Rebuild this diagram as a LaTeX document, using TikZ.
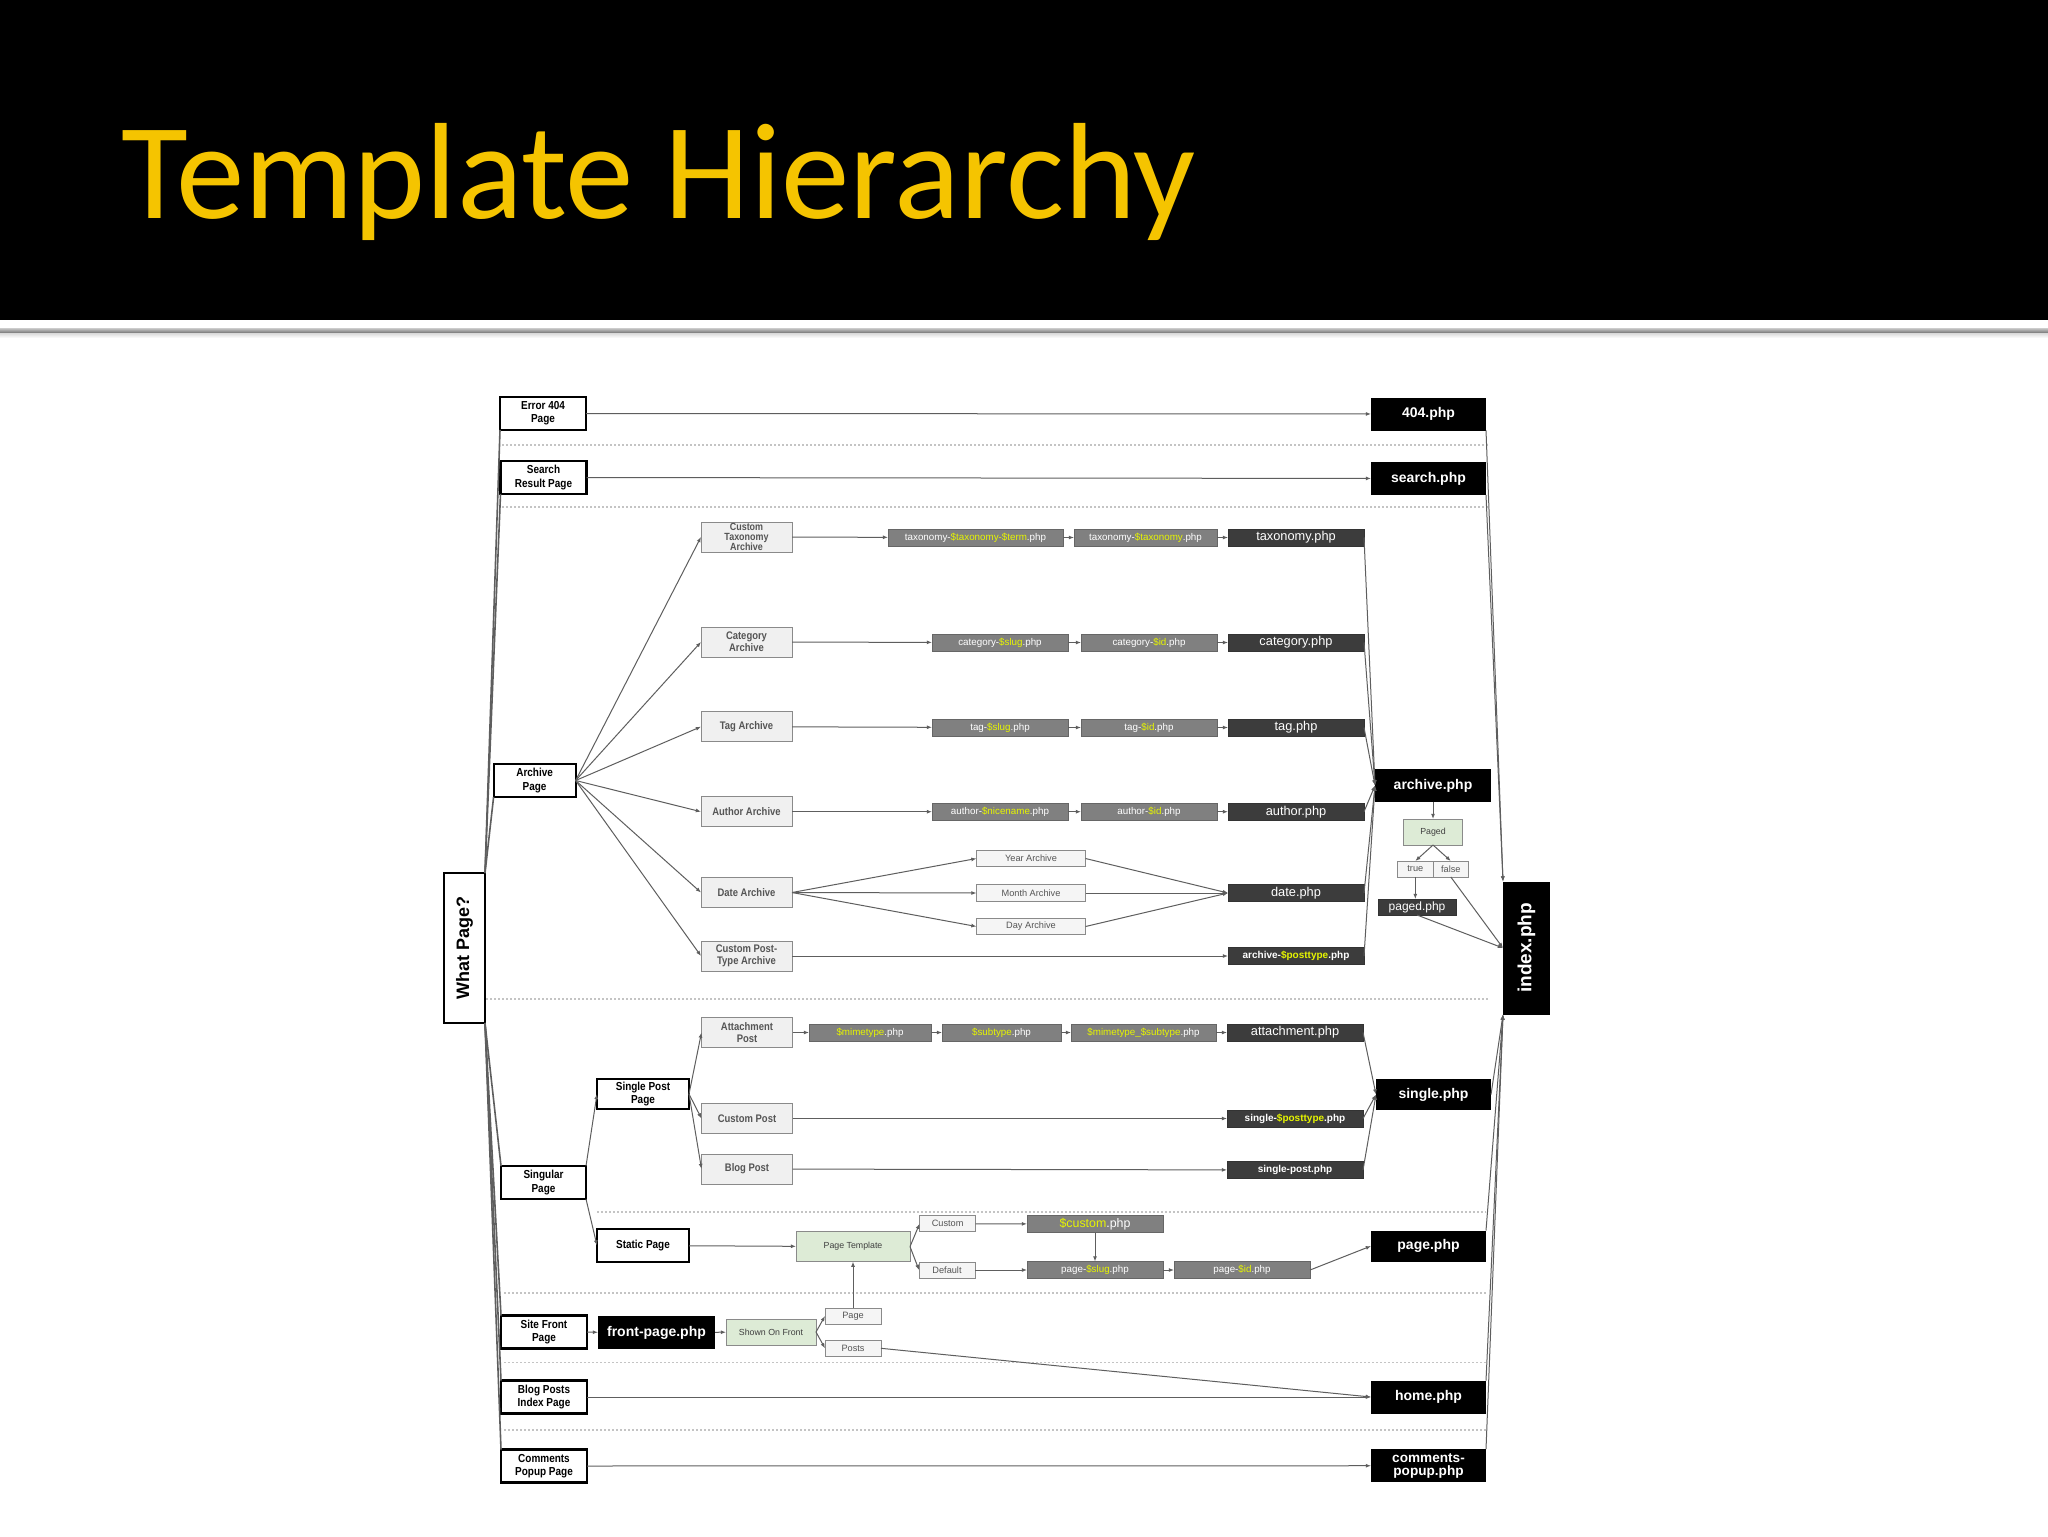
\documentclass[tikz,border=0pt]{standalone}
\usepackage{fontspec}
\usetikzlibrary{arrows.meta,calc}
\setmainfont{Liberation Sans}
\newfontfamily\calib{Carlito}
\newfontfamily\narr[FakeStretch=0.86]{Liberation Sans}
\definecolor{titlegold}{HTML}{F5C400}
\definecolor{hly}{HTML}{E6F500}
\definecolor{filegray}{HTML}{808080}
\definecolor{filedark}{HTML}{3C3C3C}
\definecolor{subfill}{HTML}{F0F0F0}
\definecolor{subdraw}{HTML}{8A8A8A}
\definecolor{subtext}{HTML}{555555}
\definecolor{greenfill}{HTML}{DDEBD6}
\definecolor{linegray}{HTML}{5E5E5E}
\definecolor{dotgray}{HTML}{C4C4C4}
\newcommand\hv[1]{\textcolor{hly}{#1}}
\newcommand\fsz[2]{\fontsize{#1}{#2}\selectfont}
\tikzset{
  base/.style={inner sep=0pt, outer sep=0pt, align=center},
  leftbox/.style={base, draw=black, line width=1.1pt, fill=white, minimum width=43pt, minimum height=16.5pt, font=\narr\bfseries\fsz{5.8}{6.6}},
  subbox/.style={base, draw=subdraw, line width=0.5pt, fill=subfill, text=subtext, minimum width=45.5pt, minimum height=15pt, font=\narr\bfseries\fsz{5.5}{6.2}},
  smallbox/.style={base, draw=subdraw, line width=0.5pt, fill=white!96!black, text=subtext, minimum height=8.3pt, font=\fsz{4.6}{5}},
  greenbox/.style={base, draw=subdraw, line width=0.5pt, fill=greenfill, text=black!75, font=\fsz{4.4}{5}},
  grayfile/.style={base, draw=black!60, line width=0.5pt, fill=filegray, text=white, minimum width=68pt, minimum height=8.5pt, font=\fsz{4.9}{5}},
  darkfile/.style={base, draw=black!80, line width=0.5pt, fill=filedark, text=white, minimum width=68pt, minimum height=8.5pt, font=\fsz{6.4}{7}},
  blackfile/.style={base, fill=black, text=white, minimum width=57.5pt, minimum height=16.5pt, font=\bfseries\fsz{7}{7.4}},
  conn/.style={draw=linegray, line width=0.5pt, -{Latex[length=2.6pt,width=2pt]}},
  link/.style={draw=linegray, line width=0.5pt},
  sep/.style={draw=dotgray, line width=0.6pt, dash pattern=on 1pt off 1pt}
}
\begin{document}
\begin{tikzpicture}[x=0.5pt,y=-0.5pt]
\useasboundingbox (0,0) rectangle (2048,1536);
\fill[white] (0,0) rectangle (2048,1536);
\fill[black] (0,0) rectangle (2048,320);
\shade[top color=black!20, bottom color=black!55] (0,328) rectangle (2048,333);
\shade[top color=black!15, bottom color=white] (0,333) rectangle (2048,338);
\node[anchor=base west, inner sep=0pt, text=titlegold, font=\calib\fsz{68.5}{74}] (title) at (121,218) {Template Hierarchy};

% separators
\draw[sep] (502,445) -- (1488,445);
\draw[sep] (502,507) -- (1490,507);
\draw[sep] (486,999) -- (1490,999);
\draw[sep] (597,1212) -- (1486,1212);
\draw[sep] (504,1293) -- (1486,1293);
\draw[sep] (504,1362.5) -- (1488,1362.5);
\draw[sep] (504,1430) -- (1488,1430);

% left boxes
\node[leftbox] (err) at (543,413.5) {Error 404\\Page};
\node[leftbox] (srch) at (543.5,477.5) {Search\\Result Page};
\node[leftbox, minimum width=41pt] (arch) at (534.6,780.5) {Archive\\Page};
\node[leftbox, minimum width=42.5pt] (sing) at (543.5,1182.5) {Singular\\Page};
\node[leftbox, minimum width=46pt, minimum height=15pt] (spp) at (643,1094) {Single Post\\Page};
\node[leftbox, minimum width=46pt] (static) at (643,1245.5) {Static Page};
\node[leftbox] (sfp) at (544,1332) {Site Front\\Page};
\node[leftbox] (bpi) at (544,1397) {Blog Posts\\Index Page};
\node[leftbox] (cpp) at (544,1466) {Comments\\Popup Page};
\node[leftbox, minimum width=20.5pt, minimum height=75pt, font=\bfseries\fsz{9}{10}] (wp) at (464.5,948) {\rotatebox{90}{What Page?}};

% sub boxes
\node[subbox, font=\narr\bfseries\fsz{5.2}{5.1}] (ct) at (746.5,537) {Custom\\Taxonomy\\Archive};
\node[subbox] (cat) at (746.5,642) {Category\\Archive};
\node[subbox] (tag) at (746.5,726.7) {Tag Archive};
\node[subbox] (auth) at (746.5,811.7) {Author Archive};
\node[subbox] (date) at (746.5,892.5) {Date Archive};
\node[subbox] (cpt) at (746.5,956) {Custom Post-\\Type Archive};
\node[subbox] (attp) at (747,1032.5) {Attachment\\Post};
\node[subbox] (custp) at (747,1118.5) {Custom Post};
\node[subbox] (blogp) at (747,1169) {Blog Post};

% small boxes
\node[smallbox, minimum width=54.5pt] (year) at (1031,858.5) {Year Archive};
\node[smallbox, minimum width=54.5pt] (month) at (1031,893) {Month Archive};
\node[smallbox, minimum width=54.5pt] (day) at (1031,926.5) {Day Archive};
\node[smallbox, minimum width=28pt, minimum height=8pt] (custom) at (947.6,1223.7) {Custom};
\node[smallbox, minimum width=28pt, minimum height=8pt] (default) at (947,1270) {Default};
\node[smallbox, minimum width=28pt, minimum height=8pt] (pg) at (853,1316) {Page};
\node[smallbox, minimum width=28pt, minimum height=8pt] (posts) at (853,1348.3) {Posts};
\node[smallbox, minimum width=17.8pt, minimum height=8pt] (true) at (1415.3,869) {true};
\node[smallbox, minimum width=17.8pt, minimum height=8pt] (false) at (1450.8,869) {false};

% green boxes
\node[greenbox, minimum width=57pt, minimum height=15pt] (ptpl) at (853,1246.6) {Page Template};
\node[greenbox, minimum width=45pt, minimum height=13pt] (sof) at (771,1332) {Shown On Front};
\node[greenbox, minimum width=29.5pt, minimum height=13pt] (paged) at (1433,832) {Paged};

% gray file boxes
\node[grayfile, minimum width=87.5pt] (tax1) at (975.5,537.5) {taxonomy-\hv{\$taxonomy-\$term}.php};
\node[grayfile, minimum width=71.5pt] (tax2) at (1145.5,537.5) {taxonomy-\hv{\$taxonomy}.php};
\node[grayfile] (cat1) at (1000,642.5) {category-\hv{\$slug}.php};
\node[grayfile] (cat2) at (1149,642.5) {category-\hv{\$id}.php};
\node[grayfile] (tag1) at (1000,727.5) {tag-\hv{\$slug}.php};
\node[grayfile] (tag2) at (1149,727.5) {tag-\hv{\$id}.php};
\node[grayfile] (auth1) at (1000,811.7) {author-\hv{\$nicename}.php};
\node[grayfile] (auth2) at (1149,811.7) {author-\hv{\$id}.php};
\node[grayfile, minimum width=61pt] (att1) at (870,1032.5) {\hv{\$mimetype}.php};
\node[grayfile, minimum width=59.5pt] (att2) at (1001.5,1032.5) {\hv{\$subtype}.php};
\node[grayfile, minimum width=72.5pt] (att3) at (1143.5,1032.5) {\hv{\$mimetype\_\$subtype}.php};
\node[grayfile, font=\fsz{6.2}{7}] (cphp) at (1095,1224) {\hv{\$custom}.php};
\node[grayfile] (pslug) at (1095,1270) {page-\hv{\$slug}.php};
\node[grayfile] (pid) at (1242,1270) {page-\hv{\$id}.php};

% dark file boxes
\node[darkfile] (taxphp) at (1296,537.5) {taxonomy.php};
\node[darkfile] (catphp) at (1296,642.5) {category.php};
\node[darkfile] (tagphp) at (1296,727.5) {tag.php};
\node[darkfile] (authphp) at (1296,811.7) {author.php};
\node[darkfile] (datephp) at (1296,893) {date.php};
\node[darkfile, font=\bfseries\fsz{5}{6}] (archpt) at (1296,956) {archive-\hv{\$posttype}.php};
\node[darkfile] (attphp) at (1295,1032.5) {attachment.php};
\node[darkfile, font=\bfseries\fsz{5}{6}] (sptphp) at (1295,1118.5) {single-\hv{\$posttype}.php};
\node[darkfile, font=\bfseries\fsz{5}{6}] (spphp) at (1295,1170) {single-post.php};
\node[darkfile, minimum width=39pt, minimum height=8pt, font=\fsz{6}{7}] (pagedphp) at (1417,907) {paged.php};

% black file boxes
\node[blackfile] (p404) at (1428.5,414) {404.php};
\node[blackfile] (searchphp) at (1428.5,478.5) {search.php};
\node[blackfile, minimum width=58pt] (archphp) at (1433,785.5) {archive.php};
\node[blackfile, minimum height=15.5pt] (singlephp) at (1433.5,1094.5) {single.php};
\node[blackfile, minimum height=15.5pt] (pagephp) at (1428.5,1246) {page.php};
\node[blackfile] (homephp) at (1428.5,1397) {home.php};
\node[blackfile, font=\bfseries\fsz{6.8}{6.4}] (cpop) at (1428.5,1465.7) {comments-\\popup.php};
\node[blackfile, minimum width=58.5pt] (fp) at (656.5,1332.5) {front-page.php};
\node[blackfile, minimum width=23.5pt, minimum height=66.5pt, font=\bfseries\fsz{9.5}{10}] (idx) at (1526.5,948) {\rotatebox{90}{index.php}};

% What Page? links
\draw[link, line width=0.8pt] (wp.north east) -- (err.south west);
\draw[link, line width=0.8pt] (wp.north east) -- (srch.south west);
\draw[link, line width=0.8pt] (wp.north east) -- (arch.south west);
\draw[link, line width=0.8pt] (wp.south east) -- (sing.north west);
\draw[link, line width=0.8pt] (wp.south east) -- (sfp.north west);
\draw[link, line width=0.8pt] (wp.south east) -- (bpi.north west);
\draw[link, line width=0.8pt] (wp.south east) -- (cpp.north west);

% straight rows
\draw[conn] (err) -- (p404);
\draw[conn] (srch) -- (searchphp);
\draw[conn] (bpi) -- (homephp);
\draw[conn] (cpp) -- (cpop);

% archive fan
\foreach \t in {ct,cat,tag,auth,date,cpt}{\draw[conn] (arch.east) -- (\t.west);}
\draw[conn] (ct) -- (tax1); \draw[conn] (tax1) -- (tax2); \draw[conn] (tax2) -- (taxphp);
\draw[conn] (cat) -- (cat1); \draw[conn] (cat1) -- (cat2); \draw[conn] (cat2) -- (catphp);
\draw[conn] (tag) -- (tag1); \draw[conn] (tag1) -- (tag2); \draw[conn] (tag2) -- (tagphp);
\draw[conn] (auth) -- (auth1); \draw[conn] (auth1) -- (auth2); \draw[conn] (auth2) -- (authphp);
\foreach \t in {year,month,day}{\draw[conn] (date.east) -- (\t.west); \draw[conn] (\t.east) -- (datephp.west);}
\draw[conn] (cpt) -- (archpt);
\foreach \t in {taxphp,catphp,tagphp,authphp,datephp,archpt}{\draw[conn] (\t.east) -- (archphp.west);}
\draw[conn] (archphp) -- (paged);
\draw[conn] (paged.south) -- (true.north);
\draw[conn] (paged.south) -- (false.north);
\draw[conn] (true.south) -- (true.south |- pagedphp.north);
\draw[conn] (pagedphp.south) -- (idx.west);
\draw[conn] (false.south) -- (idx.west);

% index links
\draw[conn] (p404.south east) -- (idx.north west);
\draw[conn] (searchphp.south east) -- (idx.north west);
\draw[conn] (singlephp.east) -- (idx.south west);
\draw[conn] (pagephp.north east) -- (idx.south west);
\draw[conn] (homephp.north east) -- (idx.south west);
\draw[conn] (cpop.north east) -- (idx.south west);

% singular
\draw[conn] (sing.north east) -- (spp.west);
\draw[conn] (sing.south east) -- (static.west);
\foreach \t in {attp,custp,blogp}{\draw[conn] (spp.east) -- (\t.west);}
\draw[conn] (attp) -- (att1); \draw[conn] (att1) -- (att2); \draw[conn] (att2) -- (att3); \draw[conn] (att3) -- (attphp);
\draw[conn] (custp) -- (sptphp);
\draw[conn] (blogp) -- (spphp);
\foreach \t in {attphp,sptphp,spphp}{\draw[conn] (\t.east) -- (singlephp.west);}

% static page
\draw[conn] (static) -- (ptpl);
\draw[conn] (ptpl.east) -- (custom.west);
\draw[conn] (ptpl.east) -- (default.west);
\draw[conn] (custom) -- (cphp);
\draw[conn] (default) -- (pslug);
\draw[conn] (cphp) -- (pslug);
\draw[conn] (pslug) -- (pid);
\draw[conn] (pid.east) -- (pagephp.west);

% front page
\draw[conn] (sfp) -- (fp);
\draw[conn] (fp) -- (sof);
\draw[conn] (sof.east) -- (pg.west);
\draw[conn] (sof.east) -- (posts.west);
\draw[conn] (pg) -- (ptpl);
\draw[conn] (posts.east) -- (homephp.west);
\end{tikzpicture}
\end{document}
